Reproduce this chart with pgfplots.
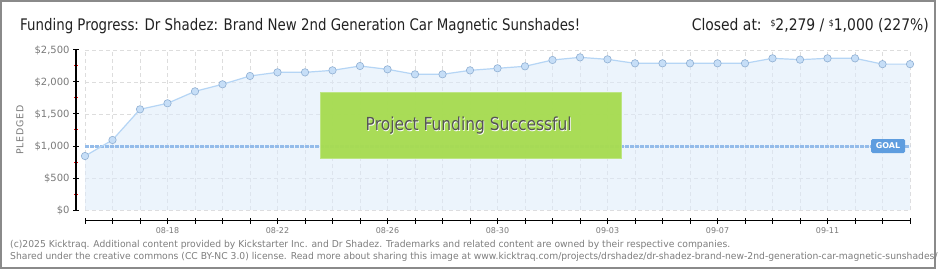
\documentclass[border=0pt]{standalone}
\usepackage{fontspec}
\setmainfont{DejaVu Sans}
\usepackage{graphicx}
\usepackage{pgfplots}
\pgfplotsset{compat=1.18}
\usepackage{pgfplotstable}

\definecolor{areafill}{HTML}{DDEBFB}
\definecolor{linecol}{HTML}{B5D5F5}
\definecolor{markfill}{HTML}{C6DEF7}
\definecolor{markdraw}{HTML}{8FAFD3}
\definecolor{gridcol}{HTML}{DDDDDD}
\definecolor{ticklab}{HTML}{7A7A7A}
\definecolor{goalcol}{HTML}{94BCEA}
\definecolor{goalbox}{HTML}{5E9DDF}
\definecolor{greenbox}{HTML}{A7DC52}
\definecolor{greenedge}{HTML}{BDE584}
\definecolor{framecol}{HTML}{8A8A8A}
\definecolor{footcol}{HTML}{7E7E7E}
\definecolor{titlecol}{HTML}{222222}
\definecolor{boxtext}{HTML}{555555}

\pgfplotstableread{
x y
0 843
1 1094
2 1573
3 1667
4 1854
5 1964
6 2094
7 2151
8 2151
9 2182
10 2250
11 2198
12 2120
13 2120
14 2182
15 2214
16 2245
17 2344
18 2385
19 2354
20 2292
21 2292
22 2292
23 2292
24 2292
25 2370
26 2349
27 2370
28 2370
29 2279
30 2279
}\pledged

\newcommand\footone{(c)2025 Kicktraq. Additional content provided by Kickstarter Inc. and Dr Shadez. Trademarks and related content are owned by their respective companies.}
\newcommand\foottwo{Shared under the creative commons (CC BY-NC 3.0) license. Read more about sharing this image at www.kicktraq.com/projects/drshadez/dr-shadez-brand-new-2nd-generation-car-magnetic-sunshades/}
\newlength\footw

\begin{document}
\settowidth\footw{\fontsize{9.5}{10}\selectfont\footone}%
\pgfmathsetmacro\footscale{722.7/(\footw/1pt)}%
\begin{tikzpicture}[x=1bp,y=1bp]
\useasboundingbox (0,0) rectangle (940,270);
\fill[white] (0,0) rectangle (940,270);
\draw[framecol, line width=2bp] (1,2) rectangle (935,269);

\node[anchor=base west, inner sep=0, text=titlecol] at (20,240)
  {\resizebox{560bp}{\height}{\fontsize{16}{16}\selectfont Funding Progress: Dr Shadez: Brand New 2nd Generation Car Magnetic Sunshades!}};
\node[anchor=base east, inner sep=0, text=titlecol] at (929,240)
  {\resizebox{237bp}{\height}{\fontsize{16}{16}\selectfont Closed at:\ \ \raisebox{4bp}{\fontsize{9}{9}\selectfont\$}2,279 / \raisebox{4bp}{\fontsize{9}{9}\selectfont\$}1,000 (227\%)}};

\begin{axis}[
  at={(85bp,60bp)}, anchor=south west,
  scale only axis, width=825bp, height=160bp,
  xmin=0, xmax=30, ymin=0, ymax=2500,
  axis x line*=bottom, axis y line*=left,
  axis x line shift=10.7bp, axis y line shift=9bp,
  axis line style={black, line width=1.2bp},
  xtick={0,...,30},
  xticklabels={,,,08-18,,,,08-22,,,,08-26,,,,08-30,,,,09-03,,,,09-07,,,,09-11,,,},
  ytick={0,500,...,2500},
  minor ytick={250,750,...,2250},
  grid=major,
  major grid style={gridcol, dash pattern=on 4bp off 3bp, line width=0.8bp},
  tick align=center,
  major tick length=6bp,
  minor tick length=4bp,
  major tick style={black, line width=1bp},
  minor tick style={red, line width=1bp},
  xticklabel style={font=\fontsize{8}{8}\selectfont, text=ticklab},
  yticklabel style={font=\fontsize{10}{10}\selectfont, text=ticklab},
  /pgf/number format/assume math mode=true,
  /pgf/number format/1000 sep={,},
  yticklabel={\$\pgfmathprintnumber{\tick}},
  clip=false,
]
\addplot[draw=none, fill=areafill, fill opacity=0.55, forget plot] table[x=x,y=y] {\pledged} \closedcycle;
\addplot[draw=goalcol, line width=3bp, dash pattern=on 3.5bp off 1.5bp, forget plot] coordinates {(0,1000) (30,1000)};
\addplot[linecol, line width=1.2bp, mark=*, mark size=3.7bp,
  mark options={fill=markfill, draw=markdraw, line width=0.6bp, solid}] table[x=x,y=y] {\pledged};
\end{axis}

\node[rotate=90, inner sep=0, text=ticklab] at (20,140) {\fontsize{9.5}{9.5}\selectfont\addfontfeature{LetterSpace=8}PLEDGED};

% success banner
\node[fill=greenbox, draw=greenedge, line width=1bp, minimum width=301bp, minimum height=66bp, inner sep=0, fill opacity=0.97] at (470.5,145) {};
\node[inner sep=0, text=white] at (469.4,143.6) {\resizebox{206bp}{\height}{\fontsize{18}{18}\selectfont Project Funding Successful}};
\node[inner sep=0, text=boxtext] at (468.7,144.3) {\resizebox{206bp}{\height}{\fontsize{18}{18}\selectfont Project Funding Successful}};

% goal tag
\node[fill=goalbox, rounded corners=1.5bp, minimum width=34bp, minimum height=14bp, inner sep=0, text=white, font=\fontsize{8}{8}\selectfont\bfseries] at (888,124) {GOAL};

% footer
\node[anchor=base west, inner sep=0, text=footcol] at (10,23)
  {\scalebox{\footscale}[1]{\fontsize{9.5}{10}\selectfont\footone}};
\node[anchor=base west, inner sep=0, text=footcol] at (10,10.5)
  {\scalebox{\footscale}[1]{\fontsize{9.5}{10}\selectfont\foottwo}};
\end{tikzpicture}
\end{document}
